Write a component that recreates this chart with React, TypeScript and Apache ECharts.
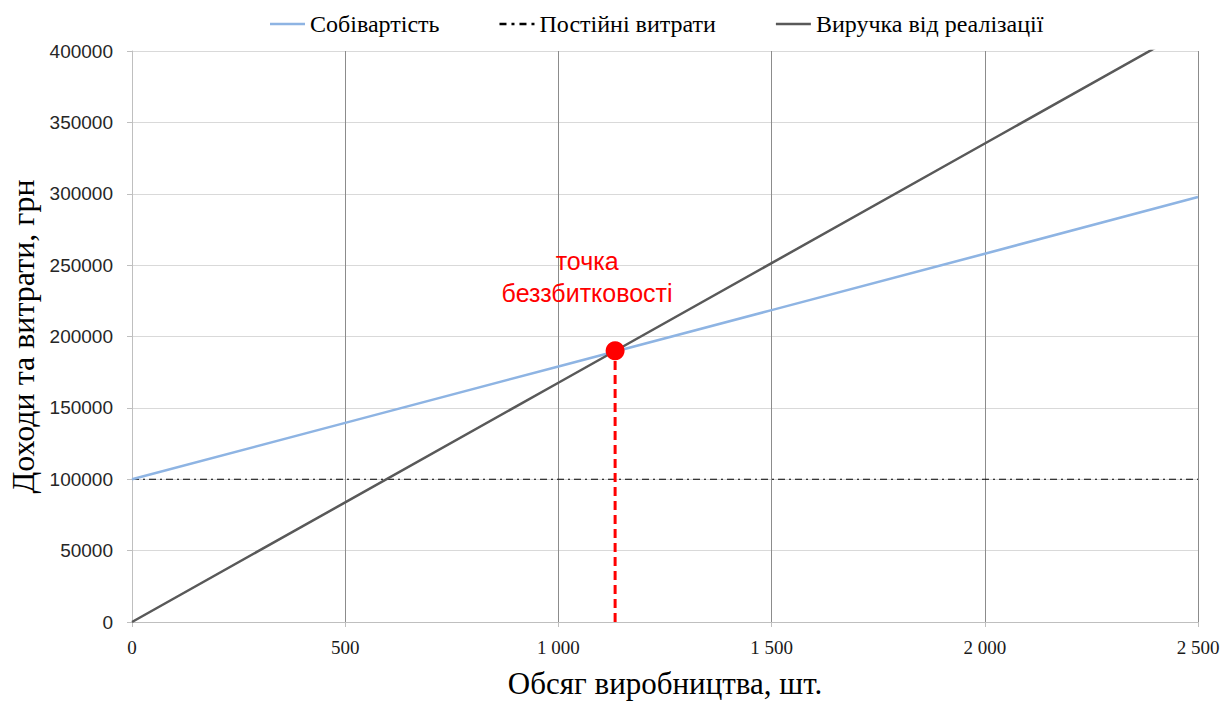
import React, { useEffect, useRef } from "react";
import * as echarts from "echarts";

const volumes = [0, 500, 1000, 1500, 2000, 2500];
const costValues = [100000, 139500, 179000, 218500, 258000, 297700];
const fixedValues = [100000, 100000, 100000, 100000, 100000, 100000];
const revenueValues = [0, 83800, 167600, 251400, 335200, 419000];
const breakEven = [1133, 190000];
const seriesNames = ["Собівартість", "Постійні витрати", "Виручка від реалізації"];
const annotation = "точка\nбеззбитковості";
const xTitle = "Обсяг виробництва, шт.";
const yTitle = "Доходи та витрати, грн";

const pairs = (ys: number[]) => volumes.map((v, i) => [v, ys[i]]);

export default function App() {
  const ref = useRef<HTMLDivElement>(null);
  useEffect(() => {
    if (!ref.current) return;
    const chart = echarts.init(ref.current, null, { renderer: "svg" });
    const sans = "Liberation Sans";
    const serif = "Liberation Serif";
    chart.setOption({
      animation: false,
      backgroundColor: "#ffffff",
      grid: {
        left: 132,
        right: 33,
        top: 51,
        bottom: 80,
        containLabel: false,
        outerBoundsMode: "none",
      },
      legend: {
        top: 7,
        left: 265,
        itemWidth: 35,
        itemHeight: 2.5,
        itemGap: 60,
        symbolKeepAspect: false,
        textStyle: { fontFamily: serif, fontSize: 24, color: "#000" },
        data: [
          { name: seriesNames[0], icon: "path://M0,0h35v2.5h-35z", itemStyle: { color: "#8eb4e3" } },
          {
            name: seriesNames[1],
            icon: "path://M0,0h7v2h-7zM12,0h3v2h-3zM20,0h7v2h-7zM32,0h3v2h-3z",
            itemStyle: { color: "#000" },
          },
          { name: seriesNames[2], icon: "path://M0,0h35v2.5h-35z", itemStyle: { color: "#595959" } },
        ],
      },
      xAxis: {
        type: "value",
        min: 0,
        max: 2500,
        interval: 500,
        name: xTitle,
        nameLocation: "middle",
        nameGap: 46,
        nameTextStyle: { fontFamily: serif, fontSize: 31, color: "#000" },
        axisLine: { show: true, lineStyle: { color: "#bfbfbf", width: 1 } },
        axisTick: { show: true, length: 5, lineStyle: { color: "#bfbfbf" } },
        axisLabel: {
          fontFamily: serif,
          fontSize: 19,
          color: "#1a1a1a",
          margin: 16,
          formatter: (v: number) => String(v).replace(/\B(?=(\d{3})+(?!\d))/g, " "),
        },
        splitLine: { show: true, lineStyle: { color: "#8c8c8c", width: 1 } },
      },
      yAxis: {
        type: "value",
        min: 0,
        max: 400000,
        interval: 50000,
        name: yTitle,
        nameLocation: "middle",
        nameGap: 92,
        nameRotate: 90,
        nameTextStyle: { fontFamily: serif, fontSize: 32, color: "#000" },
        axisLine: { show: true, lineStyle: { color: "#bfbfbf", width: 1 } },
        axisTick: { show: true, length: 5, lineStyle: { color: "#bfbfbf" } },
        axisLabel: {
          fontFamily: sans,
          fontSize: 19,
          color: "#262626",
          margin: 19,
          formatter: (v: number) => String(v),
        },
        splitLine: { show: true, lineStyle: { color: "#d9d9d9", width: 1 } },
      },
      series: [
        {
          name: seriesNames[0],
          type: "line",
          data: pairs(costValues),
          symbol: "none",
          lineStyle: { color: "#8eb4e3", width: 2.5 },
          itemStyle: { color: "#8eb4e3" },
          z: 3,
        },
        {
          name: seriesNames[1],
          type: "line",
          data: pairs(fixedValues),
          symbol: "none",
          lineStyle: { color: "#000", width: 1, type: [7, 4, 2, 4] },
          itemStyle: { color: "#000" },
          z: 2,
        },
        {
          name: seriesNames[2],
          type: "line",
          data: pairs(revenueValues),
          symbol: "none",
          lineStyle: { color: "#595959", width: 2.5 },
          itemStyle: { color: "#595959" },
          z: 3,
        },
        {
          name: "drop",
          type: "line",
          data: [[breakEven[0], 0], breakEven],
          symbol: "none",
          lineStyle: { color: "#ff0000", width: 3, type: [9, 5] },
          z: 4,
        },
        {
          name: "point",
          type: "scatter",
          data: [breakEven],
          symbolSize: 19,
          itemStyle: { color: "#ff0000", opacity: 1 },
          z: 5,
          label: {
            show: true,
            position: "top",
            distance: 32,
            offset: [-28, 0],
            formatter: annotation,
            fontFamily: sans,
            fontSize: 25,
            lineHeight: 32,
            color: "#ff0000",
            align: "center",
          },
        },
      ],
    });
    return () => chart.dispose();
  }, []);
  return (
    <div
      ref={ref}
      style={{ position: "absolute", left: 0, top: 0, width: 1231, height: 702 }}
    />
  );
}
